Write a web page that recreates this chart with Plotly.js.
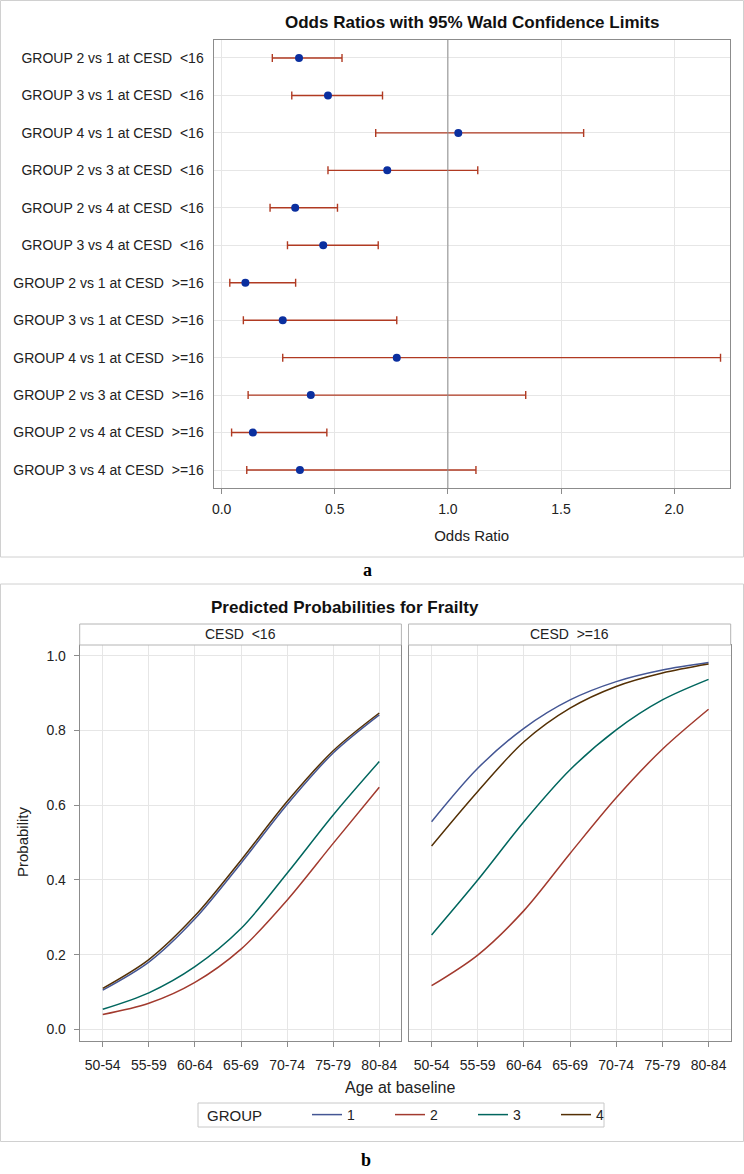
<!DOCTYPE html>
<html>
<head>
<meta charset="utf-8">
<script src="https://cdn.plot.ly/plotly-3.0.1.min.js"></script>
<style>
html,body{margin:0;padding:0;background:#fff;}
#chart{width:744px;height:1174px;}
</style>
</head>
<body>
<div id="chart"></div>
<script>
// ---------- Panel a: odds ratios ----------
const comparisons = [
  "GROUP 2 vs 1 at CESD  <16",
  "GROUP 3 vs 1 at CESD  <16",
  "GROUP 4 vs 1 at CESD  <16",
  "GROUP 2 vs 3 at CESD  <16",
  "GROUP 2 vs 4 at CESD  <16",
  "GROUP 3 vs 4 at CESD  <16",
  "GROUP 2 vs 1 at CESD  >=16",
  "GROUP 3 vs 1 at CESD  >=16",
  "GROUP 4 vs 1 at CESD  >=16",
  "GROUP 2 vs 3 at CESD  >=16",
  "GROUP 2 vs 4 at CESD  >=16",
  "GROUP 3 vs 4 at CESD  >=16"
];
const oddsRatio = [0.342, 0.470, 1.046, 0.732, 0.325, 0.449, 0.105, 0.270, 0.774, 0.394, 0.138, 0.346];
const lowerCL   = [0.224, 0.310, 0.681, 0.470, 0.214, 0.291, 0.036, 0.096, 0.270, 0.117, 0.044, 0.111];
const upperCL   = [0.532, 0.711, 1.600, 1.132, 0.512, 0.692, 0.327, 0.774, 2.205, 1.344, 0.465, 1.124];
const orTicks   = [0, 0.5, 1.0, 1.5, 2.0];
const refLine   = 1.0;

// ---------- Panel b: predicted probabilities ----------
const ageGroups = ["50-54", "55-59", "60-64", "65-69", "70-74", "75-79", "80-84"];
const groupNames = ["1", "2", "3", "4"];
const legendTitle = "GROUP";
const probLow = {   // CESD <16
  "1": [0.105, 0.180, 0.296, 0.445, 0.602, 0.740, 0.842],
  "2": [0.040, 0.070, 0.126, 0.215, 0.346, 0.498, 0.648],
  "3": [0.054, 0.098, 0.168, 0.270, 0.418, 0.574, 0.717],
  "4": [0.110, 0.187, 0.304, 0.453, 0.610, 0.746, 0.847]
};
const probHigh = {  // CESD >=16
  "1": [0.556, 0.699, 0.806, 0.882, 0.931, 0.962, 0.982],
  "2": [0.117, 0.199, 0.318, 0.471, 0.620, 0.750, 0.857],
  "3": [0.253, 0.400, 0.556, 0.695, 0.802, 0.882, 0.937],
  "4": [0.491, 0.637, 0.770, 0.860, 0.918, 0.954, 0.978]
};
const probTicks = [0, 0.2, 0.4, 0.6, 0.8, 1.0];
const panelLabels = ["CESD  <16", "CESD  >=16"];

// ---------- helpers ----------
const W = 744, H = 1174;
const px = v => v / W;
const py = v => 1 - v / H;
const esc = s => s.replace(/&/g, "&amp;").replace(/</g, "&lt;").replace(/>/g, "&gt;").replace(/ {2}/g, " \u00a0");
const FONT = "Liberation Sans, Arial, sans-serif";
const groupColors = {"1": "#445694", "2": "#A23A2E", "3": "#01665E", "4": "#543005"};
const gridC = "#e6e6e6", frameC = "#8c8c8c";

const traces = [];
traces.push({
  type: "scatter", mode: "markers",
  x: oddsRatio, y: comparisons,
  xaxis: "x", yaxis: "y",
  marker: {color: "#0B2F9F", size: 8},
  error_x: {
    type: "data", symmetric: false,
    array: oddsRatio.map((v, i) => upperCL[i] - v),
    arrayminus: oddsRatio.map((v, i) => v - lowerCL[i]),
    color: "#B03A22", thickness: 1.4, width: 4
  },
  showlegend: false, hoverinfo: "x+y"
});

groupNames.forEach(g => {
  traces.push({
    type: "scatter", mode: "lines", name: g, legendgroup: g,
    x: ageGroups, y: probLow[g], xaxis: "x2", yaxis: "y2",
    line: {color: groupColors[g], width: 1.5, shape: "spline", smoothing: 0.9},
    showlegend: true
  });
  traces.push({
    type: "scatter", mode: "lines", name: g, legendgroup: g,
    x: ageGroups, y: probHigh[g], xaxis: "x3", yaxis: "y3",
    line: {color: groupColors[g], width: 1.5, shape: "spline", smoothing: 0.9},
    showlegend: false
  });
});

const tickFont = {family: FONT, size: 14, color: "#222"};

const layout = {
  width: W, height: H,
  margin: {l: 0, r: 0, t: 0, b: 0, autoexpand: false},
  paper_bgcolor: "#fff", plot_bgcolor: "#fff",
  font: {family: FONT, color: "#222"},
  showlegend: true,
  xaxis: {
    domain: [px(213.5), px(729.8)], anchor: "y",
    range: [-0.036, 2.246],
    tickvals: orTicks, tickformat: ".1f",
    showgrid: true, gridcolor: gridC, zeroline: false,
    showline: true, mirror: true, linecolor: frameC, linewidth: 1,
    ticks: "outside", ticklen: 5, tickcolor: frameC, ticklabelstandoff: 3,
    tickfont: tickFont,
    title: {text: "Odds Ratio", font: {family: FONT, size: 15, color: "#222"}, standoff: 14}
  },
  yaxis: {
    domain: [py(488), py(40)], anchor: "x",
    type: "category",
    range: [11.48, -0.48],
    tickvals: comparisons, ticktext: comparisons.map(esc),
    showgrid: true, gridcolor: gridC, zeroline: false,
    showline: true, mirror: true, linecolor: frameC, linewidth: 1,
    ticks: "", ticklabelstandoff: 6,
    tickfont: tickFont
  },
  xaxis2: {
    domain: [px(79.7), px(401.4)], anchor: "y2",
    type: "category", range: [-0.5, 6.48],
    showgrid: true, gridcolor: gridC, zeroline: false,
    showline: true, mirror: true, linecolor: frameC,
    ticks: "outside", ticklen: 5, tickcolor: frameC, ticklabelstandoff: 6,
    tickfont: tickFont
  },
  yaxis2: {
    domain: [py(1041), py(645)], anchor: "x2",
    range: [-0.031, 1.029],
    tickvals: probTicks, tickformat: ".1f",
    showgrid: true, gridcolor: gridC, zeroline: false,
    showline: true, mirror: true, linecolor: frameC,
    ticks: "outside", ticklen: 5, tickcolor: frameC, ticklabelstandoff: 5,
    tickfont: tickFont
  },
  xaxis3: {
    domain: [px(408.5), px(730.7)], anchor: "y3",
    type: "category", range: [-0.5, 6.48],
    showgrid: true, gridcolor: gridC, zeroline: false,
    showline: true, mirror: true, linecolor: frameC,
    ticks: "outside", ticklen: 5, tickcolor: frameC, ticklabelstandoff: 6,
    tickfont: tickFont
  },
  yaxis3: {
    domain: [py(1041), py(645)], anchor: "x3",
    range: [-0.031, 1.029],
    tickvals: probTicks, showticklabels: false,
    showgrid: true, gridcolor: gridC, zeroline: false,
    showline: true, mirror: true, linecolor: frameC,
    ticks: ""
  },
  legend: {
    orientation: "h",
    x: px(307), y: py(1099), xanchor: "left", yanchor: "top",
    bgcolor: "rgba(0,0,0,0)", borderwidth: 0,
    font: {family: FONT, size: 14, color: "#222"},
    entrywidth: 38, entrywidthmode: "pixels",
    tracegroupgap: 0,
    traceorder: "normal"
  },
  shapes: [
    {type: "rect", xref: "paper", yref: "paper", x0: px(0.5), x1: px(743.5), y0: py(557), y1: py(0.5),
     line: {color: "#d0d0d0", width: 1}, fillcolor: "rgba(0,0,0,0)", layer: "below"},
    {type: "rect", xref: "paper", yref: "paper", x0: px(0.5), x1: px(743.5), y0: py(1141.5), y1: py(584),
     line: {color: "#d0d0d0", width: 1}, fillcolor: "rgba(0,0,0,0)", layer: "below"},
    {type: "line", xref: "x", yref: "y domain", x0: refLine, x1: refLine, y0: 0, y1: 1,
     line: {color: "#8c8c8c", width: 1}, layer: "above"},
    {type: "rect", xref: "paper", yref: "paper", x0: px(79.7), x1: px(401.4), y0: py(645), y1: py(624),
     line: {color: "#b4b4b4", width: 1}, fillcolor: "#fff"},
    {type: "rect", xref: "paper", yref: "paper", x0: px(408.5), x1: px(730.7), y0: py(645), y1: py(624),
     line: {color: "#b4b4b4", width: 1}, fillcolor: "#fff"},
    // legend frame
    {type: "rect", xref: "paper", yref: "paper", x0: px(198), x1: px(604), y0: py(1127), y1: py(1103),
     line: {color: "#c8c8c8", width: 1}, fillcolor: "#fff", layer: "below"}
  ],
  annotations: [
    {text: "<b>Odds Ratios with 95% Wald Confidence Limits</b>", xref: "paper", yref: "paper",
     x: px(472), y: py(23), xanchor: "center", yanchor: "middle", showarrow: false,
     font: {family: FONT, size: 17, color: "#111"}},
    {text: "<b>a</b>", xref: "paper", yref: "paper", x: px(367), y: py(570),
     xanchor: "center", yanchor: "middle", showarrow: false,
     font: {family: "Liberation Serif, Times New Roman, serif", size: 18, color: "#000"}},
    {text: "<b>Predicted Probabilities for Frailty</b>", xref: "paper", yref: "paper",
     x: px(344.5), y: py(607), xanchor: "center", yanchor: "middle", showarrow: false,
     font: {family: FONT, size: 17, color: "#111"}},
    {text: esc(panelLabels[0]), xref: "paper", yref: "paper", x: px(240.5), y: py(634),
     xanchor: "center", yanchor: "middle", showarrow: false, font: {family: FONT, size: 14, color: "#222"}},
    {text: esc(panelLabels[1]), xref: "paper", yref: "paper", x: px(569.6), y: py(634),
     xanchor: "center", yanchor: "middle", showarrow: false, font: {family: FONT, size: 14, color: "#222"}},
    {text: "Probability", xref: "paper", yref: "paper", x: px(22), y: py(842), textangle: -90,
     xanchor: "center", yanchor: "middle", showarrow: false, font: {family: FONT, size: 15, color: "#222"}},
    {text: "Age at baseline", xref: "paper", yref: "paper", x: px(400), y: py(1087),
     xanchor: "center", yanchor: "middle", showarrow: false, font: {family: FONT, size: 16, color: "#222"}},
    {text: legendTitle, xref: "paper", yref: "paper", x: px(205), y: py(1115),
     xanchor: "left", yanchor: "middle", showarrow: false, font: {family: FONT, size: 15, color: "#222"}},
    {text: "<b>b</b>", xref: "paper", yref: "paper", x: px(366), y: py(1160),
     xanchor: "center", yanchor: "middle", showarrow: false,
     font: {family: "Liberation Serif, Times New Roman, serif", size: 18, color: "#000"}}
  ]
};

Plotly.newPlot("chart", traces, layout, {displayModeBar: false, staticPlot: true});
</script>
</body>
</html>
